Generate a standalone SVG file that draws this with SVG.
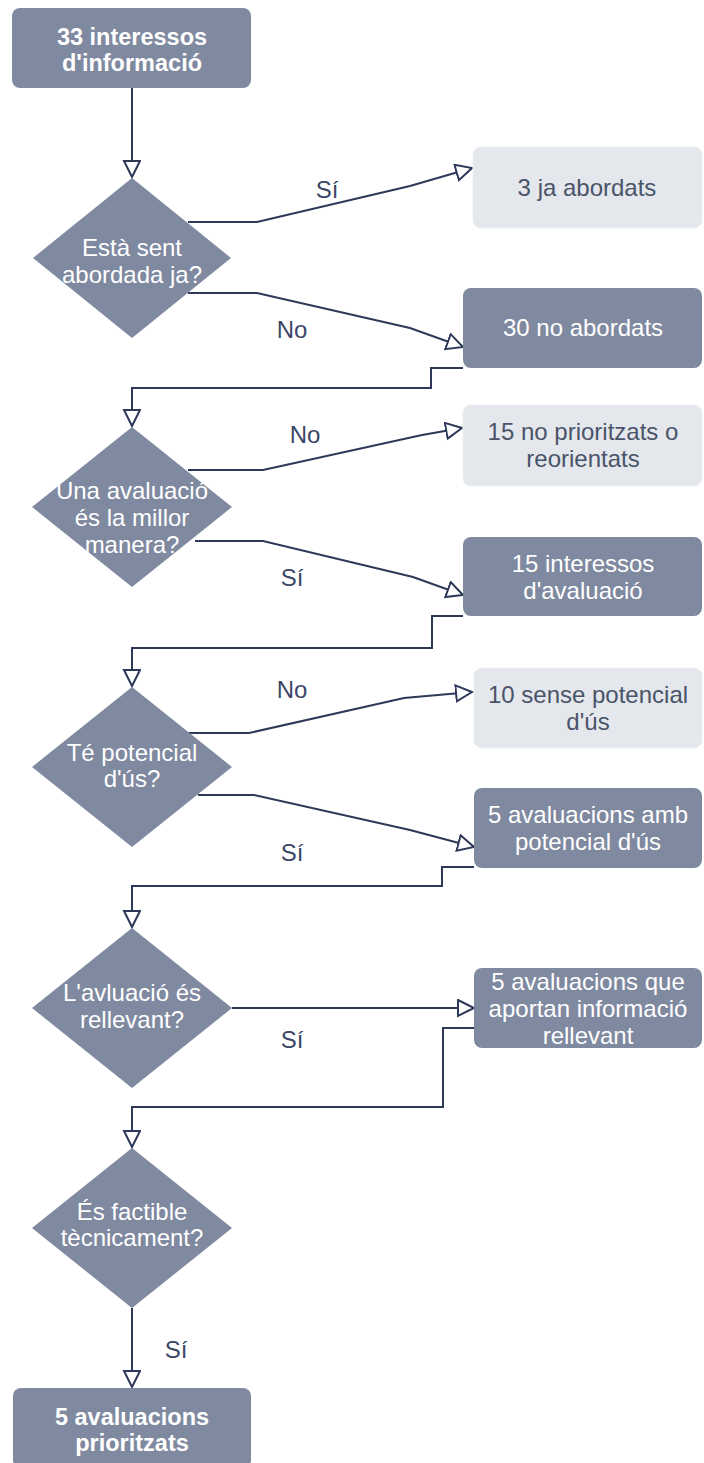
<svg xmlns="http://www.w3.org/2000/svg" width="704" height="1463" viewBox="0 0 704 1463">
<style>
.dark{fill:#7f89a0;}
.light{fill:#e4e7ec;stroke:#eceef2;stroke-width:1;}
.t{font-family:"Liberation Sans",Arial,sans-serif;font-size:24px;text-anchor:middle;}
.w{fill:#ffffff;}
.wb{fill:#ffffff;font-weight:bold;font-size:23.5px;}
.lt{fill:#4a5469;}
.lbl{fill:#3b4666;}
.c{fill:none;stroke:#2e3959;stroke-width:2;marker-end:url(#arr);}
</style>
<defs>
<marker id="arr" markerUnits="userSpaceOnUse" markerWidth="20" markerHeight="20" refX="17" refY="9" orient="auto">
<path d="M1,1 L17,9 L1,17 Z" fill="#ffffff" stroke="#2e3959" stroke-width="2"/>
</marker>
</defs>
<rect width="704" height="1463" fill="#ffffff"/>
<g id="connectors">
<path class="c" d="M132,88 V177"/>
<path class="c" d="M188,222 H257 L410,186 L472,168"/>
<path class="c" d="M188,293 H257 L410,328 L463,347"/>
<path class="c" d="M463,368 H431 V388 H132 V426"/>
<path class="c" d="M188,470 H263 L422,435 L462,428"/>
<path class="c" d="M195,541 H263 L413,577 L463,595"/>
<path class="c" d="M463,616 H432 V648 H132 V686"/>
<path class="c" d="M188,733 H249 L404,698 L472,692"/>
<path class="c" d="M198,795 H254 L410,830 L474,847"/>
<path class="c" d="M474,867 H442 V886 H132 V927"/>
<path class="c" d="M232,1008 H474"/>
<path class="c" d="M474,1028 H443 V1107 H132 V1147"/>
<path class="c" d="M132,1308 V1387"/>
</g>
<g id="labels">
<text class="t lbl" x="327" y="198">Sí</text>
<text class="t lbl" x="292" y="338">No</text>
<text class="t lbl" x="305" y="443">No</text>
<text class="t lbl" x="292" y="586">Sí</text>
<text class="t lbl" x="292" y="698">No</text>
<text class="t lbl" x="292" y="861">Sí</text>
<text class="t lbl" x="292" y="1048">Sí</text>
<text class="t lbl" x="176" y="1358">Sí</text>
</g>
<g id="n_start">
<rect class="dark" x="12" y="8" width="239" height="80" rx="8"/>
<text class="t wb" x="132" y="45">33 interessos</text>
<text class="t wb" x="132" y="71">d'informació</text>
</g>
<g id="d1">
<polygon class="dark" points="132,178 231,258 132,338 33,258"/>
<text class="t w" x="132" y="256">Està sent</text>
<text class="t w" x="132" y="283">abordada ja?</text>
</g>
<g id="n_ja">
<rect class="light" x="473" y="147" width="229" height="81" rx="8"/>
<text class="t lt" x="587" y="196">3 ja abordats</text>
</g>
<g id="n_no">
<rect class="dark" x="463" y="288" width="239" height="80" rx="8"/>
<text class="t w" x="583" y="336">30 no abordats</text>
</g>
<g id="d2">
<polygon class="dark" points="132,427 232,507 132,587 32,507"/>
<text class="t w" x="132" y="499">Una avaluació</text>
<text class="t w" x="132" y="526">és la millor</text>
<text class="t w" x="132" y="553">manera?</text>
</g>
<g id="n_noprio">
<rect class="light" x="463" y="405" width="239" height="81" rx="8"/>
<text class="t lt" x="583" y="440">15 no prioritzats o</text>
<text class="t lt" x="583" y="467">reorientats</text>
</g>
<g id="n_int">
<rect class="dark" x="463" y="537" width="239" height="79" rx="8"/>
<text class="t w" x="583" y="572">15 interessos</text>
<text class="t w" x="583" y="599">d'avaluació</text>
</g>
<g id="d3">
<polygon class="dark" points="132,687 232,767 132,847 32,767"/>
<text class="t w" x="132" y="761">Té potencial</text>
<text class="t w" x="132" y="787">d'ús?</text>
</g>
<g id="n_sense">
<rect class="light" x="474" y="668" width="228" height="80" rx="8"/>
<text class="t lt" x="588" y="703">10 sense potencial</text>
<text class="t lt" x="588" y="730">d'ús</text>
</g>
<g id="n_amb">
<rect class="dark" x="474" y="788" width="228" height="80" rx="8"/>
<text class="t w" x="588" y="823">5 avaluacions amb</text>
<text class="t w" x="588" y="850">potencial d'ús</text>
</g>
<g id="d4">
<polygon class="dark" points="132,928 232,1008 132,1088 32,1008"/>
<text class="t w" x="132" y="1001">L'avluació és</text>
<text class="t w" x="132" y="1028">rellevant?</text>
</g>
<g id="n_aport">
<rect class="dark" x="474" y="968" width="228" height="80" rx="8"/>
<text class="t w" x="588" y="990">5 avaluacions que</text>
<text class="t w" x="588" y="1017">aportan informació</text>
<text class="t w" x="588" y="1044">rellevant</text>
</g>
<g id="d5">
<polygon class="dark" points="132,1148 232,1228 132,1308 32,1228"/>
<text class="t w" x="132" y="1220">És factible</text>
<text class="t w" x="132" y="1246">tècnicament?</text>
</g>
<g id="n_end">
<rect class="dark" x="13" y="1388" width="238" height="80" rx="8"/>
<text class="t wb" x="132" y="1425">5 avaluacions</text>
<text class="t wb" x="132" y="1451">prioritzats</text>
</g>
</svg>
